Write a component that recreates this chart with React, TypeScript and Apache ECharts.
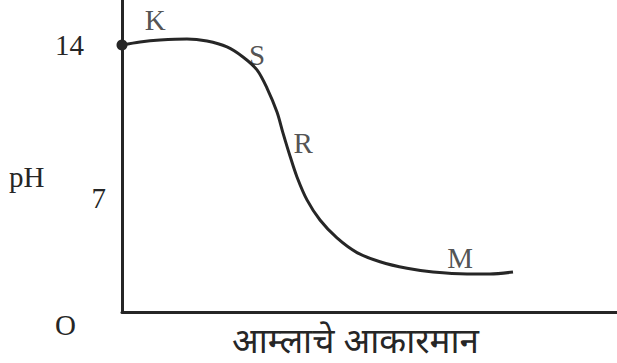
import React, { useEffect, useRef } from "react";
import * as echarts from "echarts";

// curve: volume of acid (arbitrary units) vs pH
const volume = [0, 3.64, 7.68, 13.13, 17.17, 21.21, 24.44, 27.27, 29.29, 31.31, 32.53, 33.94, 35.35, 37.37, 40.0, 43.43, 47.47, 52.12, 57.58, 62.83, 69.7, 74.34, 78.99];
const phValues = [14.0, 14.14, 14.23, 14.28, 14.18, 13.91, 13.45, 12.86, 12.03, 10.93, 9.97, 8.92, 7.96, 6.91, 5.99, 5.17, 4.5, 4.08, 3.78, 3.61, 3.52, 3.52, 3.61];

// point annotations
const markNames = ["K", "S", "R", "M"];
const markX = [6.7, 27.3, 36.6, 68.3];
const markY = [15.14, 13.54, 9.52, 4.25];

const yTicks = [7, 14];
const xTitle = "आम्लाचे आकारमान";
const yTitle = "pH";
const originLabel = "O";

const FONT = "'Liberation Serif', 'Times New Roman', serif";
const INK = "#262626";

export default function App() {
  const ref = useRef<HTMLDivElement>(null);
  useEffect(() => {
    if (!ref.current) return;
    const chart = echarts.init(ref.current, undefined, { renderer: "svg" });
    chart.setOption({
      animation: false,
      grid: { left: 122, right: 0, top: 0, bottom: 51, outerBoundsMode: "none", containLabel: false },
      xAxis: {
        type: "value",
        min: 0,
        max: 100,
        axisLine: { show: true, lineStyle: { color: INK, width: 3 } },
        axisTick: { show: false },
        axisLabel: { show: false },
        splitLine: { show: false },
        name: xTitle,
        nameLocation: "middle",
        nameGap: 10,
        nameTextStyle: {
          fontSize: 35,
          lineHeight: 34,
          color: INK,
          fontFamily: "'Noto Sans', 'Noto Sans Devanagari', sans-serif",
          padding: [0, 28, 0, 0],
        },
      },
      yAxis: {
        type: "value",
        min: 1.78,
        max: 16.06,
        axisLine: { show: true, lineStyle: { color: INK, width: 3 } },
        axisTick: { show: false },
        splitLine: { show: false },
        axisLabel: {
          customValues: yTicks,
          margin: 16,
          fontSize: 29,
          color: INK,
          fontFamily: FONT,
          formatter: (v: number) => (v === 14 ? `{a|${v}}` : `{b|${v}}`),
          rich: {
            a: { fontSize: 29, color: INK, fontFamily: FONT, padding: [0, 22, 0, 0] },
            b: { fontSize: 29, color: INK, fontFamily: FONT },
          },
        },
      },
      graphic: [
        {
          type: "text",
          left: 9,
          top: 162,
          style: { text: yTitle, fontSize: 29, fill: INK, fontFamily: FONT },
        },
        {
          type: "text",
          left: 55,
          top: 310,
          style: { text: originLabel, fontSize: 29, fill: INK, fontFamily: FONT },
        },
      ],
      series: [
        {
          type: "line",
          data: volume.map((x, i) => [x, phValues[i]]),
          smooth: 0.3,
          showSymbol: true,
          symbol: (_v: any, p: any) => (p.dataIndex === 0 ? "circle" : "none"),
          symbolSize: 11,
          itemStyle: { color: INK },
          lineStyle: { color: INK, width: 3 },
          silent: true,
        },
        {
          type: "scatter",
          symbolSize: 0,
          data: markNames.map((n, i) => ({ name: n, value: [markX[i], markY[i]] })),
          label: {
            show: true,
            position: "inside",
            formatter: (p: any) => p.name,
            fontSize: 29,
            color: INK,
            fontFamily: FONT,
          },
          silent: true,
        },
      ],
    });
    return () => chart.dispose();
  }, []);
  return <div ref={ref} style={{ width: 617, height: 363, position: "absolute", left: 0, top: 0 }} />;
}
